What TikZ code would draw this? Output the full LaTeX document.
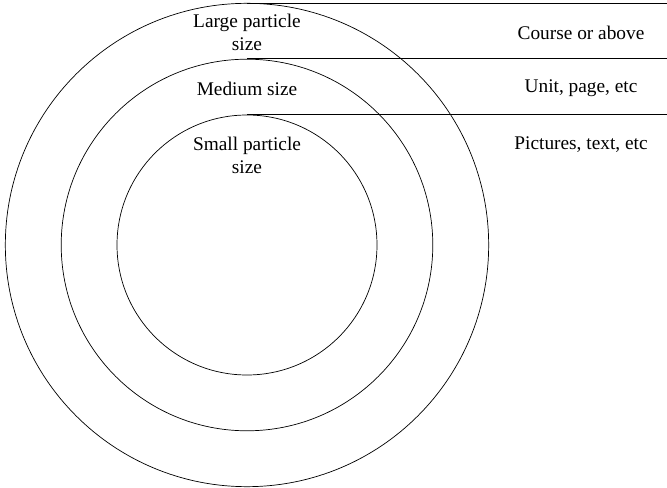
\documentclass[tikz,border=0pt]{standalone}
\usepackage{fontspec}
\setmainfont{Liberation Serif}
\usetikzlibrary{positioning, calc}

\begin{document}
\begin{tikzpicture}[
    font=\fontsize{16.5}{19.6}\selectfont,
    ring/.style={circle, draw=black, line width=0.6pt, inner sep=0pt},
    rule/.style={draw=black, line width=0.6pt},
    sizelabel/.style={align=center},
    levellabel/.style={align=center},
]

% ===== Layout =====
% circles share one centre at the origin
\def\rOut{7.25cm}
\def\rMid{5.574cm}
\def\rIn{3.9cm}
\def\xR{12.6}   % right edge of the picture
\def\xL{10.02}  % x of the right-hand labels

\useasboundingbox (-7.41,-7.26) rectangle (\xR,7.35);

% ===== Rings =====
\node[ring, minimum size=2*\rOut] (outer) at (0,0) {};
\node[ring, minimum size=2*\rMid] (middle) at (0,0) {};
\node[ring, minimum size=2*\rIn] (inner) at (0,0) {};

% ===== Rules from the top of each ring to the right edge =====
\coordinate (edge) at (\xR,0);
\foreach \c in {outer, middle, inner} {
    \draw[rule] (\c.north) -- (\c.north -| edge);
}

% ===== Ring labels =====
\node[sizelabel] (large) at (0,6.39) {Large particle\\size};
\node[sizelabel] (medium) at (0,4.68) {Medium size};
\node[sizelabel] (small) at (0,2.70) {Small particle\\size};

% ===== Level labels (right) =====
\node[levellabel] (course) at (\xL,6.375) {Course or above};
\node[levellabel] (unit) at (\xL,4.71) {Unit, page, etc};
\node[levellabel] (pictures) at (\xL,3.00) {Pictures, text, etc};

\end{tikzpicture}
\end{document}
